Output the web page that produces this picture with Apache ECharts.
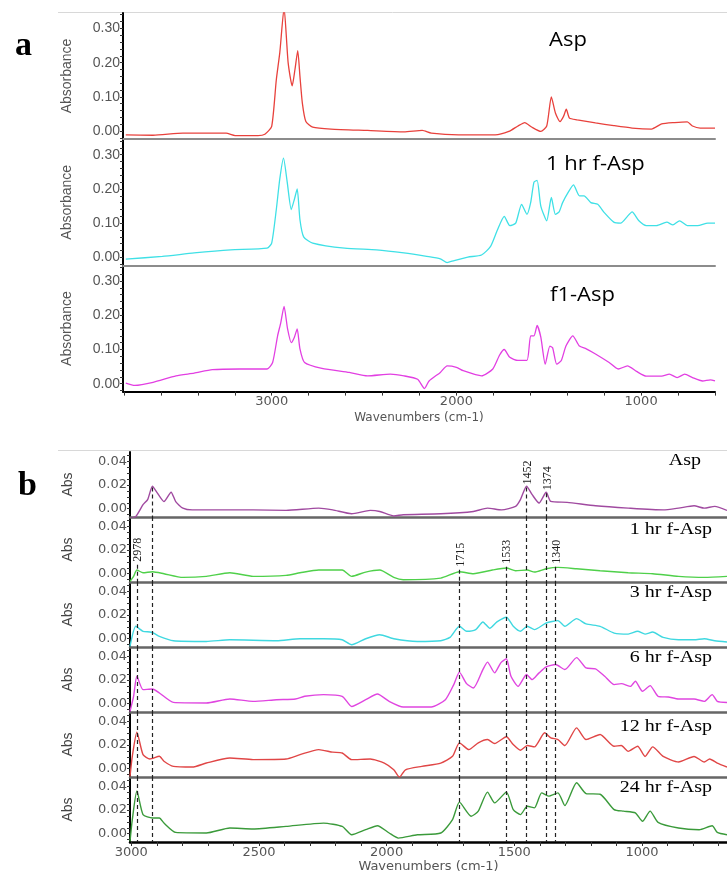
<!DOCTYPE html>
<html>
<head>
<meta charset="utf-8">
<script src="https://cdn.jsdelivr.net/npm/echarts@6/dist/echarts.min.js"></script>
<style>
  html, body { margin: 0; padding: 0; background: #fff; }
  #chart { width: 727px; height: 884px; }
</style>
</head>
<body>
<div id="chart"></div>
<script>
// ---- panel a : [wavenumber, absorbance] ----
const aspA = [[3790,-0.011],[3642,-0.012],[3481,-0.006],[3247,-0.006],[3198,-0.013],[3074,-0.013],[3037,-0.009],[3000,0.014],[2975,0.15],[2956,0.23],[2933,0.36],[2911,0.2],[2889,0.132],[2874,0.18],[2859,0.235],[2847,0.16],[2834,0.082],[2815,0.028],[2778,0.012],[2679,0.006],[2481,0.002],[2284,-0.002],[2185,0.002],[2136,-0.006],[1988,-0.011],[1790,-0.011],[1716,-0.001],[1667,0.015],[1630,0.025],[1593,0.012],[1543,-0.001],[1511,0.015],[1486,0.1],[1464,0.053],[1439,0.028],[1420,0.043],[1405,0.064],[1388,0.038],[1346,0.033],[1247,0.024],[1148,0.016],[1049,0.009],[944,0.006],[889,0.021],[819,0.025],[750,0.027],[722,0.015],[680,0.009],[600,0.009]]
const hr1A = [[3790,-0.005],[3592,0.003],[3420,0.013],[3222,0.022],[3025,0.027],[3000,0.042],[2975,0.14],[2956,0.23],[2936,0.29],[2916,0.22],[2894,0.14],[2877,0.17],[2862,0.2],[2847,0.11],[2827,0.06],[2778,0.042],[2605,0.027],[2432,0.022],[2284,0.013],[2161,0.003],[2087,-0.004],[2050,-0.015],[2012,-0.009],[1938,0.001],[1864,0.007],[1815,0.032],[1778,0.08],[1741,0.12],[1711,0.093],[1679,0.1],[1647,0.155],[1618,0.126],[1598,0.16],[1580,0.22],[1563,0.225],[1543,0.15],[1511,0.107],[1486,0.175],[1464,0.126],[1444,0.133],[1425,0.16],[1395,0.19],[1366,0.212],[1334,0.18],[1309,0.18],[1272,0.16],[1235,0.155],[1198,0.13],[1148,0.103],[1111,0.1],[1074,0.12],[1049,0.133],[1012,0.107],[972,0.093],[917,0.093],[861,0.103],[828,0.095],[792,0.107],[750,0.093],[694,0.093],[639,0.1],[600,0.1]]
const f1A = [[3790,0.002],[3741,-0.005],[3642,0.004],[3518,0.023],[3420,0.031],[3321,0.041],[3173,0.043],[3025,0.043],[2995,0.062],[2968,0.14],[2951,0.178],[2933,0.226],[2914,0.16],[2894,0.12],[2877,0.136],[2862,0.16],[2847,0.102],[2822,0.062],[2728,0.045],[2580,0.033],[2481,0.023],[2358,0.028],[2284,0.023],[2210,0.013],[2173,-0.014],[2148,0.008],[2087,0.033],[2050,0.052],[2000,0.048],[1963,0.038],[1864,0.023],[1803,0.043],[1766,0.084],[1741,0.1],[1711,0.077],[1667,0.068],[1618,0.068],[1598,0.14],[1580,0.14],[1563,0.17],[1543,0.136],[1519,0.057],[1494,0.11],[1479,0.105],[1457,0.057],[1432,0.068],[1407,0.11],[1370,0.14],[1334,0.11],[1297,0.102],[1247,0.087],[1173,0.062],[1124,0.043],[1074,0.052],[1025,0.036],[972,0.022],[889,0.022],[847,0.028],[805,0.018],[764,0.028],[722,0.018],[667,0.008],[625,0.011],[600,0.008]]

// ---- panel b ----
const aspB = [[3005,-0.008],[2982,-0.0065],[2954,0.0034],[2936,0.0077],[2917,0.019],[2899,0.0136],[2872,0.006],[2844,0.014],[2826,0.006],[2798,0.0005],[2761,-0.001],[2614,-0.001],[2523,-0.001],[2394,-0.0014],[2266,0.0005],[2211,-0.001],[2137,-0.0043],[2064,-0.0014],[2027,-0.0023],[1972,-0.0061],[1935,-0.0051],[1788,-0.0043],[1660,-0.0023],[1605,0.0005],[1550,-0.001],[1495,0.002],[1476,0.0077],[1452,0.019],[1430,0.0119],[1403,0.0048],[1375,0.0139],[1357,0.0062],[1293,0.0054],[1182,0.0025],[1054,0.0005],[917,-0.001],[857,0.0005],[796,0.0025],[756,0.0005],[715,0.002],[667,-0.0014]]
const hr1B = [[3005,-0.0065],[2991,-0.0022],[2978,0.0031],[2954,0.0008],[2917,0.0017],[2872,0.0],[2798,-0.0031],[2706,-0.0022],[2614,0.0008],[2523,-0.0022],[2394,-0.0014],[2339,0.0008],[2266,0.0031],[2174,0.0031],[2137,-0.0022],[2082,0.0014],[2027,0.0031],[1972,-0.0031],[1935,-0.0051],[1788,-0.0037],[1715,0.0017],[1660,0.0],[1586,0.0031],[1531,0.0048],[1495,0.0025],[1449,0.0031],[1421,0.0014],[1375,0.0042],[1329,0.0054],[1256,0.0042],[1164,0.0025],[1054,0.0008],[958,0.0],[857,-0.0022],[756,-0.0031],[667,-0.0022]]
const hr3B = [[3005,-0.0065],[2982,0.0105],[2954,0.0063],[2927,0.0057],[2912,0.0048],[2890,0.002],[2835,-0.0017],[2706,-0.0023],[2614,-0.0009],[2431,-0.0017],[2339,0.0],[2247,0.0],[2174,-0.0009],[2137,-0.0051],[2082,0.0],[2027,0.0034],[1972,0.0],[1880,-0.0023],[1788,-0.0017],[1752,0.0011],[1715,0.0105],[1687,0.0063],[1651,0.0077],[1623,0.0142],[1596,0.0088],[1568,0.0142],[1531,0.0182],[1504,0.0105],[1476,0.0063],[1449,0.0105],[1421,0.0077],[1375,0.0133],[1329,0.0153],[1302,0.0105],[1256,0.017],[1219,0.0125],[1164,0.0105],[1109,0.0048],[1054,0.0039],[1017,0.0063],[988,0.0039],[958,0.0057],[917,0.0011],[857,-0.0009],[796,-0.0009],[756,0.0],[715,-0.0017],[667,-0.0028]]
const hr6B = [[3005,-0.0065],[2991,0.0063],[2978,0.0232],[2954,0.0119],[2917,0.0125],[2890,0.0091],[2835,0.0011],[2706,0.0006],[2614,0.004],[2523,0.002],[2431,0.0034],[2357,0.004],[2321,0.0063],[2247,0.0077],[2174,0.0063],[2137,-0.0023],[2082,0.0034],[2036,0.0082],[1990,0.002],[1935,-0.0028],[1825,-0.0028],[1770,0.0034],[1737,0.0162],[1715,0.0267],[1687,0.017],[1660,0.0133],[1623,0.0289],[1605,0.0352],[1577,0.0261],[1553,0.0346],[1531,0.038],[1513,0.0232],[1485,0.0147],[1452,0.0247],[1430,0.0204],[1403,0.0261],[1375,0.0312],[1338,0.0332],[1302,0.0289],[1256,0.039],[1219,0.0303],[1182,0.0295],[1146,0.0232],[1109,0.0162],[1081,0.017],[1045,0.0147],[1026,0.019],[998,0.0105],[968,0.0153],[937,0.0063],[897,0.0057],[857,0.004],[796,0.004],[756,0.002],[725,0.0077],[705,0.002],[667,0.0011]]
const hr12B = [[3005,-0.0065],[2996,0.0105],[2978,0.0309],[2954,0.0119],[2927,0.0082],[2890,0.0105],[2872,0.0063],[2835,0.002],[2761,0.0014],[2706,0.0048],[2614,0.0091],[2523,0.0077],[2394,0.0082],[2339,0.0119],[2266,0.0162],[2211,0.014],[2174,0.0133],[2137,0.0077],[2064,0.0082],[2009,0.0048],[1972,-0.0009],[1950,-0.0071],[1926,-0.0009],[1862,0.002],[1788,0.0048],[1742,0.0105],[1715,0.0219],[1678,0.0162],[1641,0.0219],[1605,0.0247],[1577,0.0213],[1531,0.027],[1504,0.0204],[1476,0.0156],[1449,0.0196],[1421,0.0185],[1381,0.0304],[1357,0.0261],[1329,0.0247],[1302,0.0196],[1256,0.0346],[1219,0.0247],[1164,0.029],[1109,0.019],[1081,0.0196],[1054,0.0147],[1017,0.019],[988,0.0104],[958,0.0185],[917,0.0104],[857,0.0057],[796,0.0104],[756,0.0057],[735,0.0082],[705,0.0048],[667,0.0014]]
const hr24B = [[3005,-0.0065],[2996,0.0119],[2978,0.0361],[2954,0.0162],[2917,0.0133],[2890,0.0133],[2872,0.009],[2826,0.0011],[2706,0.0006],[2614,0.0048],[2523,0.004],[2394,0.0062],[2247,0.009],[2174,0.0062],[2137,-0.0009],[2082,0.0034],[2036,0.0068],[1990,0.0006],[1954,-0.0037],[1880,-0.0009],[1788,0.0006],[1742,0.0119],[1715,0.0267],[1669,0.0148],[1641,0.0191],[1605,0.0352],[1577,0.0261],[1531,0.0352],[1504,0.0204],[1476,0.0162],[1449,0.0233],[1421,0.0219],[1393,0.0346],[1366,0.0318],[1329,0.0346],[1302,0.0238],[1256,0.0431],[1219,0.034],[1164,0.0334],[1109,0.0204],[1072,0.0191],[1026,0.0176],[998,0.0105],[968,0.0191],[937,0.0096],[857,0.0048],[776,0.0034],[725,0.0068],[705,0.0011],[667,-0.0009]]

const aNames = ['Asp', '1 hr f-Asp', 'f1-Asp']
const bNames = ['Asp', '1 hr f-Asp', '3 hr f-Asp', '6 hr f-Asp', '12 hr f-Asp', '24 hr f-Asp']
const aColors = ['#e8413c', '#3fe0e6', '#e23fe2']
const bColors = ['#a04aa0', '#4fd04a', '#3fd8e0', '#e045e0', '#e04646', '#3a9a3a']

// tick labels
const aXLabels = [3000, 2000, 1000]
const bXLabels = [3000, 2500, 2000, 1500, 1000]
const aYLabels = [0, 0.1, 0.2, 0.3]
const bYLabels = [0, 0.02, 0.04]

// dashed peak markers in panel b
const peakLines = [2978, 2918, 1715, 1533, 1452, 1374, 1338]
const peakTexts = ['2978', '', '1715', '1533', '1452', '1374', '1340']
const peakStartPlot = [1, 0, 1, 1, 0, 0, 1]   // first panel-b plot the line starts in
const peakStartVal = [0.0077, 0.018, 0.0034, 0.006, 0.018, 0.013, 0.006]

const aSeries = [aspA, hr1A, f1A]
const bSeries = [aspB, hr1B, hr3B, hr6B, hr12B, hr24B]

const A_MIN = 600, A_MAX = 3805, AY_MIN = -0.023, AY_MAX = 0.345
const B_MIN = 667, B_MAX = 3005, BY_MIN = -0.007, BY_MAX = 0.048

function range(from, to, step) {
    const out = []
    for (let v = from; v <= to + 1e-9; v += step) out.push(+v.toFixed(4))
    return out
}

const grid = [], xAxis = [], yAxis = [], series = []

aSeries.forEach((data, i) => {
    const last = i === aSeries.length - 1
    grid.push({ left: 123, width: 592, top: 13 + i * 126.3, height: 126 })
    xAxis.push({
        gridIndex: i, type: 'value', inverse: true, min: A_MIN, max: A_MAX,
        splitLine: { show: false },
        axisLine: { onZero: false, lineStyle: { color: last ? '#000' : '#8c8c8c', width: 2 } },
        axisTick: { show: last, length: 4, customValues: range(600, 3800, 200), lineStyle: { color: '#333' } },
        axisLabel: { show: last, customValues: aXLabels, formatter: v => String(v), margin: 4, color: '#555', fontFamily: 'DejaVu Sans', fontSize: 13 },
        name: last ? 'Wavenumbers (cm-1)' : '', nameLocation: 'middle', nameGap: 20,
        nameTextStyle: { color: '#555', fontFamily: 'DejaVu Sans', fontSize: 12 }
    })
    yAxis.push({
        gridIndex: i, type: 'value', min: AY_MIN, max: AY_MAX,
        splitLine: { show: false },
        axisLine: { show: true, onZero: false, lineStyle: { color: '#000', width: 2 } },
        axisTick: { show: true, length: 3, customValues: range(-0.02, 0.34, 0.02), lineStyle: { color: '#333' } },
        axisLabel: { customValues: aYLabels, formatter: v => v.toFixed(2), margin: 3, color: '#555', fontFamily: 'Liberation Sans', fontSize: 14 },
        name: 'Absorbance', nameLocation: 'middle', nameGap: 49,
        nameTextStyle: { color: '#555', fontFamily: 'Liberation Sans', fontSize: 14 }
    })
    series.push({
        type: 'line', xAxisIndex: i, yAxisIndex: i, data: data, showSymbol: false,
        smooth: 0.2, lineStyle: { color: aColors[i], width: 1.3 }, clip: true
    })
})

bSeries.forEach((data, j) => {
    const i = j + 3
    const last = j === bSeries.length - 1
    grid.push({ left: 130, right: 0, top: 452 + j * 65, height: 65 })
    xAxis.push({
        gridIndex: i, type: 'value', inverse: true, min: B_MIN, max: B_MAX,
        splitLine: { show: false },
        axisLine: { onZero: false, lineStyle: { color: last ? '#000' : '#666', width: 2.5 } },
        axisTick: { show: last, length: 4, customValues: range(700, 3000, 100), lineStyle: { color: '#333' } },
        axisLabel: { show: last, customValues: bXLabels, formatter: v => String(v), margin: 4, color: '#555', fontFamily: 'DejaVu Sans', fontSize: 13 },
        name: last ? 'Wavenumbers (cm-1)' : '', nameLocation: 'middle', nameGap: 18,
        nameTextStyle: { color: '#555', fontFamily: 'DejaVu Sans', fontSize: 13 }
    })
    yAxis.push({
        gridIndex: i, type: 'value', min: BY_MIN, max: BY_MAX,
        splitLine: { show: false },
        axisLine: { show: true, onZero: false, lineStyle: { color: '#000', width: 2 } },
        axisTick: { show: true, length: 3, customValues: range(-0.005, 0.045, 0.005), lineStyle: { color: '#333' } },
        axisLabel: { customValues: bYLabels, formatter: v => v.toFixed(2), margin: 3, color: '#555', fontFamily: 'DejaVu Sans', fontSize: 13 },
        name: 'Abs', nameLocation: 'middle', nameGap: 55,
        nameTextStyle: { color: '#444', fontFamily: 'Liberation Sans', fontSize: 14 }
    })
    const lines = []
    peakLines.forEach((w, k) => {
        if (peakStartPlot[k] > j) return
        const top = peakStartPlot[k] === j ? peakStartVal[k] : BY_MAX
        lines.push([{ coord: [w, top] }, { coord: [w, BY_MIN] }])
    })
    series.push({
        type: 'line', xAxisIndex: i, yAxisIndex: i, data: data, showSymbol: false,
        smooth: 0.2, lineStyle: { color: bColors[j], width: 1.4 }, clip: true,
        markLine: {
            silent: true, symbol: 'none', label: { show: false },
            lineStyle: { type: [4, 3], color: '#222', width: 1.2 },
            data: lines
        }
    })
})

const graphic = [
    { type: 'line', shape: { x1: 58, y1: 12.5, x2: 727, y2: 12.5 }, style: { stroke: '#d8d8d8', lineWidth: 1 } },
    { type: 'line', shape: { x1: 58, y1: 450.5, x2: 727, y2: 450.5 }, style: { stroke: '#d8d8d8', lineWidth: 1 } },
    { type: 'text', x: 15, y: 46, style: { text: 'a', font: 'bold 34px "Liberation Serif"', fill: '#000', verticalAlign: 'middle' } },
    { type: 'text', x: 18, y: 486, style: { text: 'b', font: 'bold 34px "Liberation Serif"', fill: '#000', verticalAlign: 'middle' } }
]
const aLabelPos = [[549, 40], [546, 164], [550, 295]]
aNames.forEach((t, i) => graphic.push({
    type: 'text', x: aLabelPos[i][0], y: aLabelPos[i][1], scaleX: 1.1,
    style: { text: t, font: '20px "Open Sans"', fill: '#000', verticalAlign: 'middle' }
}))
const bLabelPos = [[701, 461], [712, 530], [712, 593], [712, 658], [712, 727], [712, 788]]
bNames.forEach((t, j) => graphic.push({
    type: 'text', x: bLabelPos[j][0], y: bLabelPos[j][1], scaleX: 1.25,
    style: { text: t, font: '16px "Liberation Serif"', fill: '#000', align: 'right', verticalAlign: 'middle' }
}))

const chart = echarts.init(document.getElementById('chart'))
chart.setOption({ animation: false, grid, xAxis, yAxis, series, graphic })

// rotated peak labels, placed through the axes
const peakGraphic = []
peakLines.forEach((w, k) => {
    if (!peakTexts[k]) return
    const gi = peakStartPlot[k] + 3
    const p = chart.convertToPixel({ xAxisIndex: gi, yAxisIndex: gi }, [w, peakStartVal[k]])
    peakGraphic.push({
        type: 'text', x: p[0] + 1, y: p[1] - 3, rotation: Math.PI / 2,
        style: { text: peakTexts[k], font: '12px "Liberation Serif"', fill: '#222', align: 'left', verticalAlign: 'middle' }
    })
})
chart.setOption({ graphic: graphic.concat(peakGraphic) })
</script>
</body>
</html>
